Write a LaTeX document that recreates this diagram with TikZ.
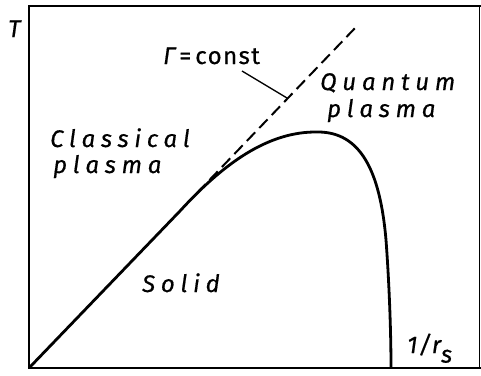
\documentclass[tikz,border=0pt]{standalone}
\usepackage{fontspec}
\setmainfont{Fira Sans}
\newfontfamily\lab[LetterSpace=24,FakeBold=0.6]{Fira Sans}
\newfontfamily\labn[LetterSpace=6,FakeBold=0.6]{Fira Sans}
\tikzset{
  frame/.style={line width=1.8pt},
  curve/.style={line width=2.8pt, line join=round},
  gline/.style={line width=2pt, dash pattern=on 12pt off 6pt},
  leader/.style={line width=1.3pt},
  region/.style={anchor=base west, inner sep=0pt, font=\lab\itshape\fontsize{24}{24}\selectfont},
}
\begin{document}
\begin{tikzpicture}[x=1pt,y=-1pt]
\useasboundingbox (0,0) rectangle (481,375);
\coordinate (O) at (29,368);
\coordinate (TL) at (29,6);
\coordinate (TR) at (481,6);
\coordinate (BR) at (481,368);
\draw[frame] (TR) -- (TL) -- (O) -- (BR);
\draw[line width=1pt] (479.5,6) -- (479.5,368);
% melting curve
\coordinate (S) at (180,211);
\coordinate (P) at (318,132);
\coordinate (Q) at (386,240);
\coordinate (E) at (391,368);
\draw[curve] (O) -- (S) .. controls (223,164) and (268,131) .. (P)
  .. controls (360,132) and (380,170) .. (Q)
  .. controls (389,280) and (391,330) .. (E);
% Gamma = const
\coordinate (G1) at (197,193);
\coordinate (G2) at (357,26);
\draw[gline] (G1) -- (G2);
\coordinate (L1) at (242,71);
\coordinate (L2) at (287,98);
\draw[leader] (L1) -- (L2);
% labels
\node[region, font=\labn\itshape\fontsize{24}{24}\selectfont] (t) at (8,37) {T};
\node[region, font=\labn\fontsize{24}{24}\selectfont] (g) at (163,64) {\itshape Γ\upshape\,=\,const};
\node[region] (q1) at (320,90) {Quantum};
\node[region] (q2) at (327,117) {plasma};
\node[region] (c1) at (50,147) {Classical};
\node[region] (c2) at (53,173) {plasma};
\node[region] (s) at (142,292) {Solid};
\node[region, font=\labn\itshape\fontsize{24}{24}\selectfont] (r) at (407,353) {1/r\raisebox{-0.4em}{s}};
\end{tikzpicture}
\end{document}
